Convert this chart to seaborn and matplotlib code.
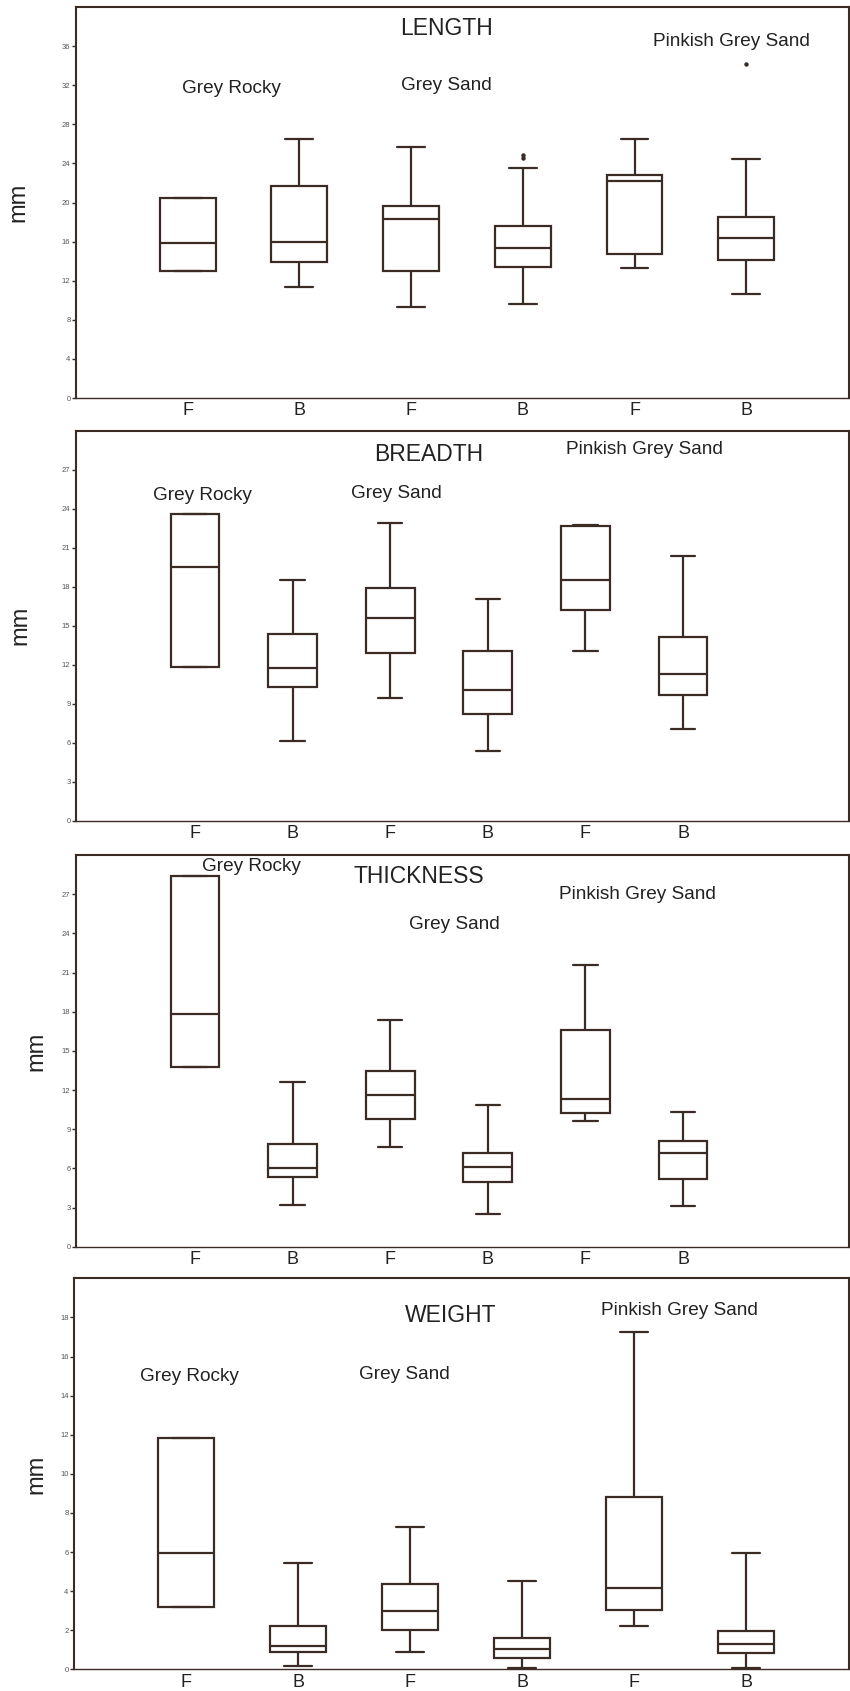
import numpy as np
import pandas as pd
import matplotlib
matplotlib.use("Agg")
import matplotlib.pyplot as plt
import seaborn as sns

# groups in plotting order and their tick labels
groups = ["GR F", "GR B", "GS F", "GS B", "PGS F", "PGS B"]
xlabels = ["F", "B", "F", "B", "F", "B"]

# five-number summaries: whisker low, Q1, median, Q3, whisker high
length_box = [
    [12.95, 12.95, 15.85, 20.47, 20.47],
    [11.4, 13.97, 16.0, 21.65, 26.5],
    [9.3, 12.98, 18.3, 19.6, 25.65],
    [9.63, 13.46, 15.33, 17.65, 23.5],
    [13.29, 14.76, 22.24, 22.78, 26.47],
    [10.66, 14.14, 16.37, 18.48, 24.42],
]
length_out_groups = ["GS B", "GS B", "PGS B"]
length_out_vals = [24.6, 24.85, 34.2]

breadth_box = [
    [11.8, 11.8, 19.5, 23.6, 23.6],
    [6.13, 10.3, 11.73, 14.4, 18.5],
    [9.46, 12.9, 15.6, 17.9, 22.9],
    [5.36, 8.25, 10.08, 13.08, 17.1],
    [13.05, 16.25, 18.5, 22.7, 22.75],
    [7.1, 9.72, 11.28, 14.13, 20.4],
]

thickness_box = [
    [13.75, 13.75, 17.86, 28.43, 28.43],
    [3.17, 5.36, 6.0, 7.87, 12.6],
    [7.66, 9.76, 11.62, 13.49, 17.37],
    [2.5, 4.96, 6.08, 7.18, 10.86],
    [9.63, 10.22, 11.3, 16.58, 21.59],
    [3.1, 5.16, 7.16, 8.12, 10.3],
]

weight_box = [
    [3.17, 3.17, 5.96, 11.83, 11.83],
    [0.17, 0.9, 1.19, 2.21, 5.45],
    [0.88, 1.99, 3.0, 4.35, 7.29],
    [0.08, 0.59, 1.04, 1.62, 4.53],
    [2.23, 3.03, 4.14, 8.82, 17.26],
    [0.05, 0.82, 1.29, 1.96, 5.95],
]

LINE = "#3a2c25"
TEXT = "#222222"

sns.set_theme(style="white")
plt.rcParams["font.family"] = ["Liberation Sans", "DejaVu Sans"]

fig = plt.figure(figsize=(8.5, 16.91), dpi=100)

# panel layout: axes rect, xlim, ylim top, ytick step, ylabel x, annotations (text, x, y, size)
panels = [
    dict(stats=length_box, out_g=length_out_groups, out_v=length_out_vals,
         rect=[0.0894, 0.7646, 0.9094, 0.2312], xlim=(-1.0, 5.92), ymax=40, step=4, lab_x=-0.060,
         notes=[("LENGTH", 0.479, 0.946, 16.5), ("Pinkish Grey Sand", 0.848, 0.913, 13.7),
                ("Grey Sand", 0.479, 0.800, 13.7), ("Grey Rocky", 0.201, 0.793, 13.7)]),
    dict(stats=breadth_box, out_g=[], out_v=[],
         rect=[0.0894, 0.5145, 0.9094, 0.2308], xlim=(-1.22, 6.70), ymax=30, step=3, lab_x=-0.057,
         notes=[("BREADTH", 0.456, 0.938, 16.5), ("Pinkish Grey Sand", 0.736, 0.953, 13.7),
                ("Grey Sand", 0.414, 0.840, 13.7), ("Grey Rocky", 0.164, 0.833, 13.7)]),
    dict(stats=thickness_box, out_g=[], out_v=[],
         rect=[0.0894, 0.2627, 0.9094, 0.2316], xlim=(-1.22, 6.70), ymax=30, step=3, lab_x=-0.037,
         notes=[("Grey Rocky", 0.227, 0.970, 13.7), ("THICKNESS", 0.444, 0.945, 16.5),
                ("Pinkish Grey Sand", 0.726, 0.900, 13.7), ("Grey Sand", 0.490, 0.824, 13.7)]),
    dict(stats=weight_box, out_g=[], out_v=[],
         rect=[0.0871, 0.0128, 0.9118, 0.2312], xlim=(-1.0, 5.92), ymax=20, step=2, lab_x=-0.034,
         notes=[("WEIGHT", 0.486, 0.904, 16.5), ("Pinkish Grey Sand", 0.781, 0.919, 13.7),
                ("Grey Sand", 0.426, 0.753, 13.7), ("Grey Rocky", 0.149, 0.748, 13.7)]),
]

for p in panels:
    ax = fig.add_axes(p["rect"])
    df = pd.DataFrame({
        "group": np.repeat(groups, 5),
        "value": np.concatenate(p["stats"]),
    })
    sns.boxplot(data=df, x="group", y="value", order=groups, ax=ax,
                whis=(0, 100), width=0.5, color="white", linecolor=LINE,
                linewidth=1.6, saturation=1, showfliers=False)
    if p["out_g"]:
        sns.stripplot(x=p["out_g"], y=p["out_v"], order=groups, ax=ax,
                      jitter=False, color=LINE, size=3.2)

    ax.set_xlim(*p["xlim"])
    ax.set_ylim(0, p["ymax"])
    ax.set_yticks(np.arange(0, p["ymax"], p["step"]))
    ax.set_xticks(range(len(groups)))
    ax.set_xticklabels(xlabels, fontsize=13, color=TEXT)
    ax.set_xlabel("")
    ax.set_ylabel("mm", fontsize=17, color=TEXT)
    ax.yaxis.set_label_coords(p["lab_x"], 0.5)
    ax.tick_params(axis="y", labelsize=5.5, labelcolor="#555555", length=3,
                   width=1, color=LINE, left=True, pad=1)
    ax.tick_params(axis="x", length=0, pad=3)
    for s in ax.spines.values():
        s.set_visible(True)
        s.set_color(LINE)
        s.set_linewidth(1.5)
    ax.spines["bottom"].set_linewidth(1.0)

    for txt, tx, ty, fs in p["notes"]:
        ax.text(tx, ty, txt, transform=ax.transAxes, ha="center", va="center",
                fontsize=fs, color=TEXT)

fig.savefig("out.png", dpi=100, facecolor="white")
